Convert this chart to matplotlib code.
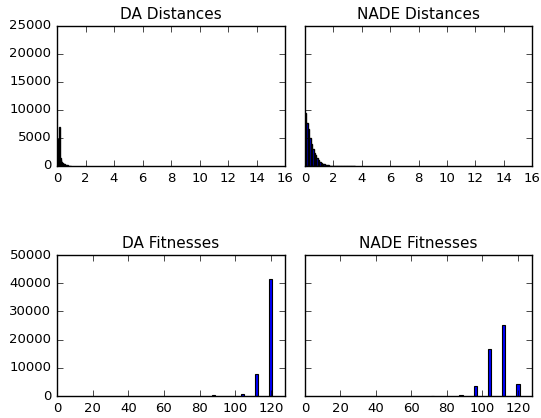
import matplotlib
matplotlib.use('Agg')
import matplotlib.pyplot as plt
import numpy as np

plt.style.use('classic')

# distance histograms (bin left edges and counts)
da_dist_width = 0.05
da_dist_counts = [4800, 3300, 2000, 7000, 1500, 1000, 800, 600, 500, 400,
                  300, 250, 200, 150, 100, 80, 60, 40, 30, 20]
nade_dist_width = 0.1
nade_dist_counts = [9500, 7700, 6600, 5000, 4000, 3000, 2400, 2000, 1500, 1100,
                    800, 600, 400, 300, 200, 150, 100, 60, 40, 20,
                    15, 12, 10, 8, 6, 5, 4, 3, 2, 2, 1, 1, 1, 1, 1]

# fitness histograms
da_fit_values = [88, 104, 112, 120]
da_fit_counts = [200, 850, 7700, 41400]
nade_fit_values = [72, 88, 96, 104, 112, 120]
nade_fit_counts = [100, 200, 3600, 16600, 25300, 4100]

fig = plt.figure(figsize=(5.41, 4.18), dpi=100, facecolor='white')
ax1 = fig.add_axes([0.1054, 0.6029, 0.4214, 0.3349])
ax2 = fig.add_axes([0.5638, 0.6029, 0.4196, 0.3349])
ax3 = fig.add_axes([0.1054, 0.0526, 0.4214, 0.3373])
ax4 = fig.add_axes([0.5638, 0.0526, 0.4196, 0.3373])

def dist_hist(ax, counts, width, title):
    edges = np.arange(len(counts)) * width
    ax.bar(edges, counts, width, align='edge', color='b', edgecolor='k', linewidth=1)
    ax.set_xlim(0, 16)
    ax.set_ylim(0, 25000)
    ax.set_xticks(range(0, 17, 2))
    ax.set_yticks(range(0, 25001, 5000))
    ax.set_title(title, fontsize=11)

def fit_hist(ax, values, counts, title):
    ax.bar(values, counts, 1.9, color='b', edgecolor='k', linewidth=0.8)
    ax.set_xlim(0, 128)
    ax.set_ylim(0, 50000)
    ax.set_xticks(range(0, 121, 20))
    ax.set_yticks(range(0, 50001, 10000))
    ax.set_title(title, fontsize=11)

dist_hist(ax1, da_dist_counts, da_dist_width, 'DA Distances')
dist_hist(ax2, nade_dist_counts, nade_dist_width, 'NADE Distances')
fit_hist(ax3, da_fit_values, da_fit_counts, 'DA Fitnesses')
fit_hist(ax4, nade_fit_values, nade_fit_counts, 'NADE Fitnesses')

for ax in (ax2, ax4):
    ax.tick_params(labelleft=False)
for ax in (ax1, ax2, ax3, ax4):
    ax.tick_params(labelsize=9.5)

fig.savefig('out.png', dpi=100, facecolor='white')
